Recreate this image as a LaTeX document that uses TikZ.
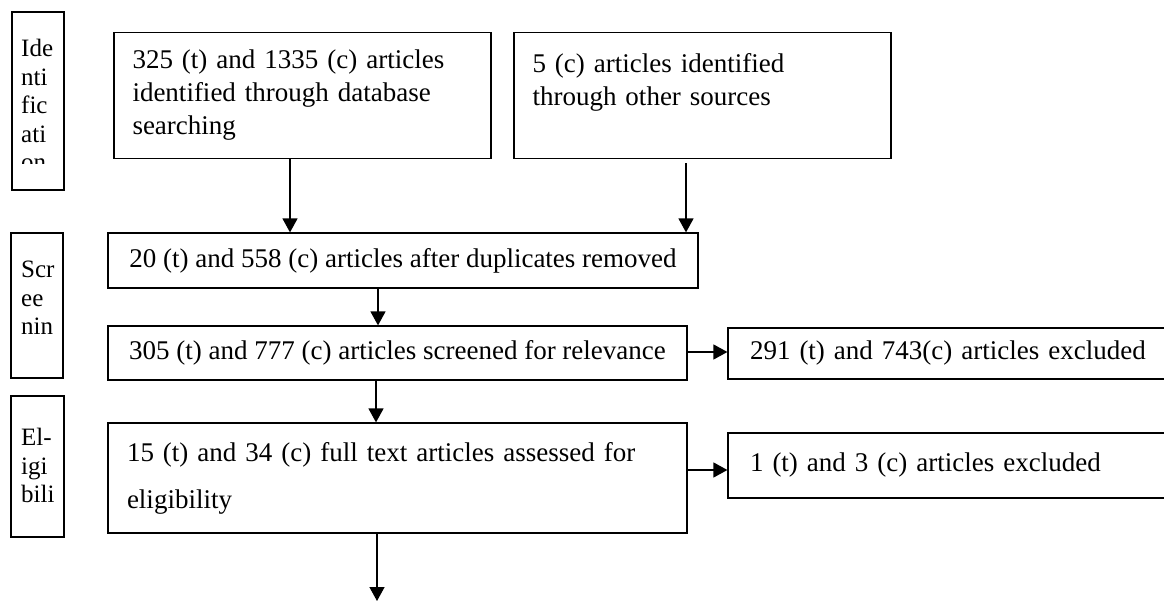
\documentclass[tikz,border=0pt]{standalone}
\usepackage{fontspec}
\setmainfont{Liberation Serif}
\usetikzlibrary{arrows.meta}
\begin{document}
\begin{tikzpicture}[x=1pt,y=-1pt,
  box/.style={draw, line width=1.2pt, inner sep=0pt, font=\fontsize{27}{33}\selectfont},
  lbl/.style={draw, line width=1.2pt, inner sep=0pt},
  lbltext/.style={anchor=north west, inner sep=0pt, align=left, font=\fontsize{25}{28.5}\selectfont},
  arr/.style={line width=1.4pt, -{Triangle[length=14pt,width=15pt]}},
  ]
\clip (0,0) rectangle (1164,601);
\fill[white] (0,0) rectangle (1164,601);
% stage labels
\node[lbl, minimum width=52pt, minimum height=178pt] (L1) at (38,101) {};
\node[lbl, minimum width=52pt, minimum height=145pt] (L2) at (37,305.5) {};
\node[lbl, minimum width=53pt, minimum height=141pt] (L3) at (37.5,466.5) {};
\begin{scope}
\clip (12,12) rectangle (64,164);
\node[lbltext] (T1) at (21,39) {Ide\\nti\\fic\\ati\\on};
\end{scope}
\begin{scope}
\clip (11,233) rectangle (63,350);
\node[lbltext] (T2) at (21,261) {Scr\\ee\\nin\\g};
\end{scope}
\begin{scope}
\clip (11,396) rectangle (64,512);
\node[lbltext] (T3) at (21,428) {El-\\igi\\bili\\ty};
\end{scope}
% boxes
\node[box, minimum width=377pt, minimum height=126pt, text width=340pt, align=left] (A) at (302.5,95.5)
  {325 (t) and 1335 (c) articles\\identified through database\\searching};
\node[box, minimum width=377pt, minimum height=126pt, text width=340pt, align=left] (B) at (702.5,95.5)
  {5 (c) articles identified\\through other sources\\\mbox{}};
\node[box, minimum width=590pt, minimum height=55pt, align=center] (C) at (403,260.5)
  {20 (t) and 558 (c) articles after duplicates removed};
\node[box, minimum width=579pt, minimum height=54pt, align=center] (D) at (397.5,353)
  {305 (t) and 777 (c) articles screened for relevance};
\node[box, minimum width=472pt, minimum height=51pt, text width=428pt, align=left] (E) at (964,353.5)
  {291 (t) and 743(c) articles excluded};
\node[box, minimum width=579pt, minimum height=110pt, text width=541pt, align=left,
  font=\fontsize{27}{47}\selectfont] (F) at (397.5,478)
  {15 (t) and 34 (c) full text articles assessed for\\eligibility};
\node[box, minimum width=472pt, minimum height=65pt, text width=428pt, align=left] (G) at (964,465.5)
  {1 (t) and 3 (c) articles excluded};
% connectors
\coordinate (xa) at (290,0);
\coordinate (xb) at (686,0);
\coordinate (xc) at (378,0);
\coordinate (xd) at (376,0);
\coordinate (xf) at (377,0);
\coordinate (yd) at (0,352);
\coordinate (yf) at (0,470);
\coordinate (out) at (377,601);
\draw[arr] (A.south -| xa) -- (C.north -| xa);
\draw[arr] ([yshift=-4pt]B.south -| xb) -- (C.north -| xb);
\draw[arr] (C.south -| xc) -- (D.north -| xc);
\draw[arr] (D.east |- yd) -- (E.west |- yd);
\draw[arr] (D.south -| xd) -- (F.north -| xd);
\draw[arr] (F.east |- yf) -- (G.west |- yf);
\draw[arr] (F.south -| xf) -- (out);
\end{tikzpicture}
\end{document}
